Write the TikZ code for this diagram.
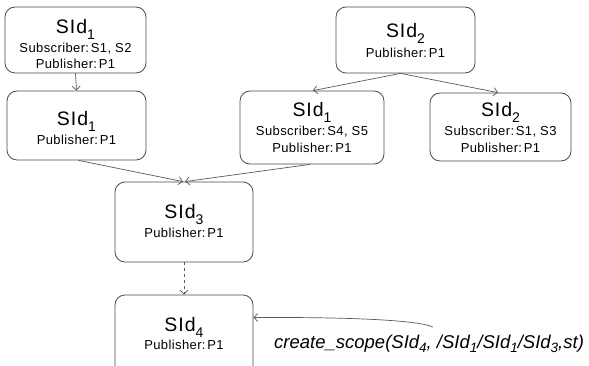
\documentclass[tikz,border=0pt]{standalone}
\usepackage{fontspec}
\setmainfont{Liberation Sans}
\newfontfamily\bigf[LetterSpace=5]{Liberation Sans}
\newfontfamily\smallf[LetterSpace=3]{Liberation Sans}
\usetikzlibrary{arrows.meta,calc}
% lowered index digits of the scope identifiers
\newcommand\sbx[1]{\raisebox{-6pt}{\fontsize{14}{14}\selectfont #1}}
\newcommand\sbi[1]{\raisebox{-3.5pt}{\fontsize{13.5}{13.5}\selectfont #1}}
\newcommand\cl{:\hspace{1.8pt}}
\begin{document}
\begin{tikzpicture}[x=1pt,y=1pt,
  box/.style={draw=black!70, line width=0.8pt, rounded corners=10pt, inner sep=0pt},
  big/.style={anchor=base, inner sep=0pt, font=\bigf\fontsize{19.5}{19.5}\selectfont},
  small/.style={anchor=base, inner sep=0pt, font=\smallf\fontsize{13}{13}\selectfont},
  call/.style={anchor=base west, inner sep=0pt, font=\fontsize{18.5}{18.5}\selectfont\itshape},
  link/.style={draw=black!65, line width=0.7pt, -{Straight Barb[length=4pt,width=8pt]}},
]
\clip (0,0) rectangle (589,-366);
\fill[white] (0,0) rectangle (589,-366);

% scope boxes
\node[box, minimum width=141pt, minimum height=66pt] (A) at (75.5,-40) {};
\node[box, minimum width=139pt, minimum height=69pt] (B) at (76.5,-125.5) {};
\node[box, minimum width=139pt, minimum height=66pt] (C) at (405.5,-40) {};
\node[box, minimum width=144pt, minimum height=73pt] (D) at (312,-127.5) {};
\node[box, minimum width=141pt, minimum height=68pt] (E) at (500.5,-127) {};
\node[box, minimum width=138pt, minimum height=80pt] (F) at (184,-222) {};
\node[box, minimum width=138pt, minimum height=90pt] (G) at (184,-340) {};

% box contents
\node[big]   (a1) at (75.5,-33.5) {SId\sbx{1}};
\node[small] (a2) at (75.5,-52.5) {Subscriber\cl S1, S2};
\node[small] (a3) at (75.5,-68.5) {Publisher\cl P1};

\node[big]   (b1) at (76.5,-126) {SId\sbx{1}};
\node[small] (b2) at (76.5,-144.5) {Publisher\cl P1};

\node[big]   (c1) at (405.5,-38)   {SId\sbx{2}};
\node[small] (c2) at (405.5,-57.5) {Publisher\cl P1};

\node[big]   (d1) at (312,-116.5) {SId\sbx{1}};
\node[small] (d2) at (312,-136) {Subscriber\cl S4, S5};
\node[small] (d3) at (312,-153) {Publisher\cl P1};

\node[big]   (e1) at (500.5,-117) {SId\sbx{2}};
\node[small] (e2) at (500.5,-135.5) {Subscriber\cl S1, S3};
\node[small] (e3) at (500.5,-153) {Publisher\cl P1};

\node[big]   (f1) at (184,-218.5) {SId\sbx{3}};
\node[small] (f2) at (184,-237) {Publisher\cl P1};

\node[big]   (g1) at (184,-331) {SId\sbx{4}};
\node[small] (g2) at (184,-349.5) {Publisher\cl P1};

% operation call
\node[call] (cs) at (274,-348.5) {create\_scope(SId\sbi{4}, /SId\sbi{1}/SId\sbi{1}/SId\sbi{3},st)};
\coordinate (cstart) at (433,-327);

% connectors
\draw[link] (A.south) -- (B.north);
\draw[link] ([xshift=-5pt]C.south) -- ([xshift=1pt]D.north);
\draw[link] ([xshift=-5pt]C.south) -- ([xshift=-2.5pt]E.north);
\draw[link] ([xshift=2pt]B.south) -- ([xshift=-1pt]F.north);
\draw[link] ([xshift=-2pt]D.south) -- ([xshift=1pt]F.north);
\draw[link, dashed] (F.south) -- (G.north);
\draw[link] (cstart) .. controls (415,-319) and (330,-317) .. ([yshift=-23pt]G.north east);
\end{tikzpicture}
\end{document}
